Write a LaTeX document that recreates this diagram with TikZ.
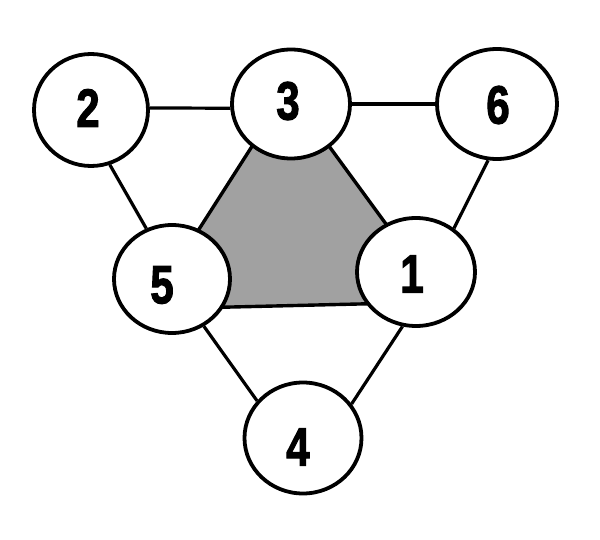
\documentclass[tikz,border=0pt]{standalone}
\usepackage{fontspec}
\setmainfont{Liberation Sans}
\newfontfamily\heavyfont[BoldFeatures={FakeBold=2.2}]{Liberation Sans}
\usetikzlibrary{shapes.geometric}
\tikzset{
  vtx/.style={ellipse, draw=black, fill=white, line width=3.8pt, inner sep=0pt},
  digit/.style={font=\heavyfont\fontsize{54}{54}\selectfont\bfseries, inner sep=0pt},
  edge/.style={draw=black, line width=3.2pt},
  face/.style={fill=black!37, draw=black, line width=3.4pt, line join=miter}
}
\newcommand{\dg}[1]{\scalebox{0.78}[1]{#1}}
\begin{document}
\begin{tikzpicture}[x=1pt,y=-1pt]
\useasboundingbox (0,0) rectangle (600,540);
\fill[white] (0,0) rectangle (600,540);
% shaded face
\path[face] (288,90) -- (148,309) -- (443,302) -- cycle;
% vertices
\node[vtx, minimum width=114pt, minimum height=112pt] (n2) at (91,110) {};
\node[vtx, minimum width=118pt, minimum height=109pt] (n3) at (291,104) {};
\node[vtx, minimum width=120pt, minimum height=110pt] (n6) at (497,104) {};
\node[vtx, minimum width=116pt, minimum height=108pt] (n5) at (172,279) {};
\node[vtx, minimum width=118pt, minimum height=108pt] (n1) at (416,272) {};
\node[vtx, minimum width=117pt, minimum height=111pt] (n4) at (303,438) {};
% labels
\node[digit] (l2) at (88,108) {\dg{2}};
\node[digit] (l3) at (288,101) {\dg{3}};
\node[digit] (l6) at (498,105) {\dg{6}};
\node[digit] (l5) at (162,285) {\dg{5}};
\node[digit] (l1) at (412,274) {\dg{1}};
\node[digit] (l4) at (298,447) {\dg{4}};
% edges
\draw[edge] (n2.2) -- (n3.184);
\draw[edge] (n3.east) -- (n6.west);
\draw[edge] (n2.-71) -- (n5.117);
\draw[edge] (n6.261) -- (n1.49);
\draw[edge] (n5.304) -- (n4.141);
\draw[edge] (n1.256) -- (n4.35.5);
\end{tikzpicture}
\end{document}
